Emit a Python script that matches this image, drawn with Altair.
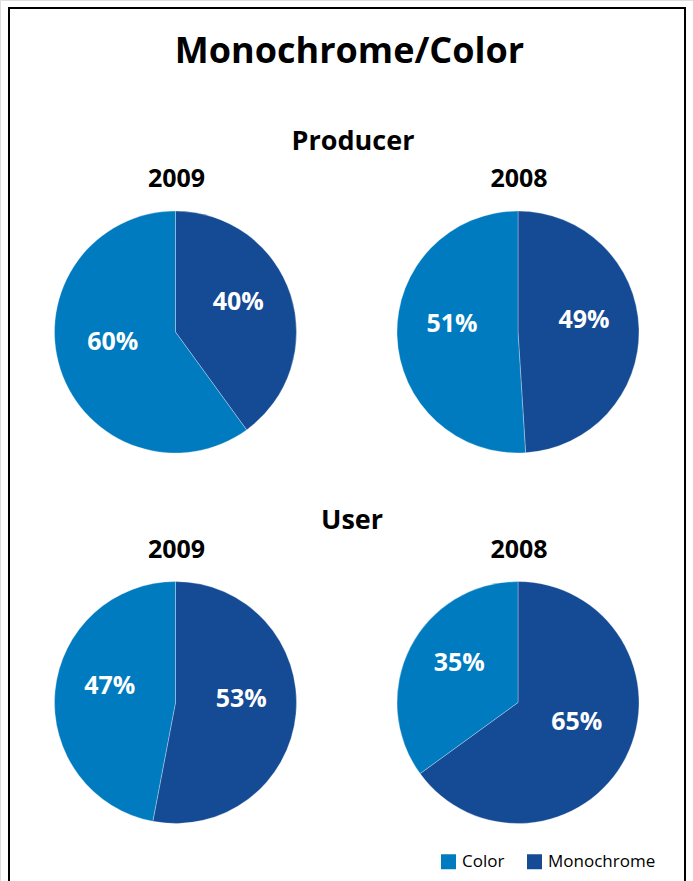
import altair as alt
import pandas as pd

# ---- data ----
groups = ["Producer", "Producer", "User", "User"]
years = ["2009", "2008", "2009", "2008"]
monochrome = [40, 49, 53, 65]
color_share = [60, 51, 47, 35]
categories = ["Color", "Monochrome"]
cat_colors = ["#007bbf", "#144b94"]

rows = []
for g, y, m, c in zip(groups, years, monochrome, color_share):
    rows.append({"group": g, "year": y, "category": "Monochrome", "value": m, "ord": 0, "label": f"{m}%"})
    rows.append({"group": g, "year": y, "category": "Color", "value": c, "ord": 1, "label": f"{c}%"})
df = pd.DataFrame(rows)

FONT = "Open Sans"

color_enc = alt.Color(
    "category:N",
    scale=alt.Scale(domain=categories, range=cat_colors),
    legend=alt.Legend(
        title=None, orient="none", legendX=440, legendY=853,
        direction="horizontal", symbolType="square", symbolSize=225,
        symbolStrokeWidth=0, labelFontSize=17, labelFont=FONT,
        labelColor="#000000", columnPadding=21, labelOffset=5,
        symbolOpacity=1,
    ),
)

centers = {
    ("Producer", "2009"): (175.5, 332),
    ("Producer", "2008"): (518, 332),
    ("User", "2009"): (175.5, 702.5),
    ("User", "2008"): (518, 702.5),
}

layers = []

# frame
layers.append(
    alt.Chart(pd.DataFrame({"a": [0]})).mark_rect(
        fill=None, stroke="#000000", strokeWidth=2
    ).encode(x=alt.value(9), x2=alt.value(685), y=alt.value(8), y2=alt.value(920))
)

for (g, y), (cx, cy) in centers.items():
    base = alt.Chart(df).transform_filter(
        (alt.datum.group == g) & (alt.datum.year == y)
    )
    arc = base.mark_arc(radius=121, stroke="#ffffff", strokeWidth=0.6, strokeOpacity=0.5).encode(
        theta=alt.Theta("value:Q", stack=True),
        color=color_enc,
        order=alt.Order("ord:Q"),
        x=alt.value(cx),
        y=alt.value(cy),
    )
    txt = base.mark_text(
        radius=66, fontSize=25, fontWeight="bold", font=FONT, color="white", dy=-10
    ).encode(
        theta=alt.Theta("value:Q", stack=True),
        text="label:N",
        order=alt.Order("ord:Q"),
        x=alt.value(cx),
        y=alt.value(cy),
    )
    yr = alt.Chart(pd.DataFrame({"a": [0]})).mark_text(
        fontSize=25, fontWeight="bold", font=FONT, color="#000000", baseline="alphabetic"
    ).encode(text=alt.value(y), x=alt.value(cx + 1), y=alt.value(cy - 145))
    layers += [arc, txt, yr]

def label(text, x, y, size):
    return alt.Chart(pd.DataFrame({"a": [0]})).mark_text(
        fontSize=size, fontWeight="bold", font=FONT, color="#000000", baseline="alphabetic"
    ).encode(text=alt.value(text), x=alt.value(x), y=alt.value(y))

layers.append(label("Monochrome/Color", 349.5, 63, 36))
layers.append(label("Producer", 353, 150, 27))
layers.append(label("User", 352, 529, 27))

chart = alt.layer(*layers).properties(
    width=693, height=881, autosize=alt.AutoSizeParams(type="none"), padding=0
).configure_view(stroke=None).configure(background="white")

chart.save("out.html", embed_options={"renderer": "svg", "actions": False})
